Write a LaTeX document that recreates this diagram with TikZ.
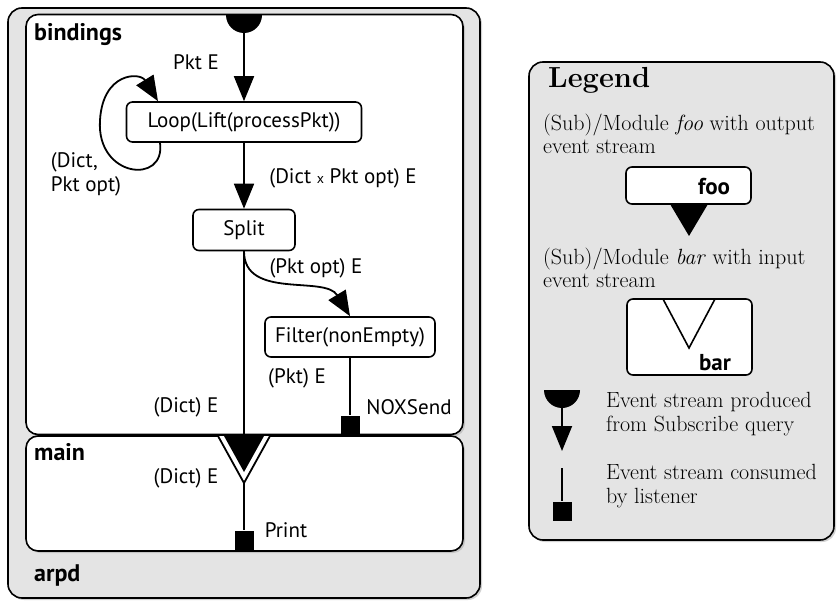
\documentclass[tikz,border=0pt]{standalone}
\usepackage{fontspec}
\newfontfamily\labelfont{PT Sans}
\usetikzlibrary{positioning, arrows.meta, calc, shadows}

\definecolor{panelgray}{RGB}{228,228,228}

\tikzset{
  container/.style={draw, line width=1.6pt, rounded corners=14pt,
    drop shadow={shadow xshift=2pt, shadow yshift=-2pt, fill=black!35}},
  modbox/.style={draw, line width=1.6pt, rounded corners=6pt, fill=white,
    font=\labelfont\fontsize{21}{23}\selectfont, inner sep=0pt},
  lbl/.style={font=\labelfont\fontsize{21}{24}\selectfont, inner sep=1pt},
  boldlbl/.style={font=\labelfont\bfseries\fontsize{23}{25}\selectfont, inner sep=1pt},
  grouplbl/.style={font=\labelfont\bfseries\fontsize{24}{26}\selectfont, anchor=west, inner sep=0pt},
  legline/.style={font=\fontsize{22}{23}\selectfont, anchor=base west, inner sep=0pt},
  flow/.style={line width=1.8pt, -{Triangle[width=20pt,length=25pt]}},
  wire/.style={line width=1.8pt},
  sink/.style={fill=black, minimum size=19pt, inner sep=0pt},
}

\begin{document}
\begin{tikzpicture}[x=1pt, y=-1pt]
    \useasboundingbox (0,0) rectangle (837,601);

    % containers
    \node[container, fill=panelgray, minimum width=472, minimum height=590] (arpd) at (244,303) {};
    \node[container, fill=white, rounded corners=12pt, minimum width=437, minimum height=420] (bindings) at (244.5,224.5) {};
    \node[container, fill=white, rounded corners=12pt, minimum width=437, minimum height=115] (main) at (244.5,493.5) {};
    \node[grouplbl] (bindingslbl) at (34,35) {bindings};
    \node[grouplbl] (mainlbl) at (34,452) {main};
    \node[grouplbl] (arpdlbl) at (34,575) {arpd};

    % subscribe source
    \fill (226,15) arc[start angle=180, end angle=0, radius=18] -- cycle;
    \coordinate (subsrc) at (244,33);

    % modules
    \node[modbox, minimum width=235, minimum height=40] (loop) at (244,122) {Loop(Lift(processPkt))};
    \node[modbox, minimum width=102, minimum height=41] (split) at (244,230) {Split};
    \node[modbox, minimum width=170, minimum height=40] (filter) at (350,337) {Filter(nonEmpty)};

    % streams
    \draw[flow] (subsrc) -- (loop.north);
    \node[lbl] (pktlbl) at (196,62) {Pkt E};
    \draw[flow] ([xshift=-84pt]loop.south) .. controls (166,185) and (96,178) .. (100,120)
        .. controls (103,72) and (140,72) .. ([xshift=-86pt]loop.north);
    \node[lbl, align=left] (statelbl) at (86,174) {(Dict,\\Pkt opt)};
    \draw[flow] (loop.south) -- (split.north);
    \node[lbl] (pairlbl) at (343,178) {(Dict {\fontsize{14}{16}\selectfont x} Pkt opt) E};
    \draw[flow] (split.south) .. controls (244,300) and (325,275) .. (filter.north);
    \node[lbl] (optlbl) at (316,268) {(Pkt opt) E};

    % output of bindings into main
    \coordinate (dictout) at (244,436);
    \draw[wire] (split.south) -- (dictout);
    \node[lbl] (dictlbl) at (186,407) {(Dict) E};
    \draw[wire, fill=white] (218,436) -- (244,483) -- (270,436);
    \fill (224,436) -- (244,472) -- (264,436) -- cycle;
    \coordinate (dictin) at (244,483);
    \node[lbl] (dictinlbl) at (186,478) {(Dict) E};

    % listeners
    \node[sink] (noxsend) at (350,425) {};
    \draw[wire] (filter.south) -- (noxsend);
    \node[lbl] (pktoutlbl) at (297,378) {(Pkt) E};
    \node[lbl] (noxlbl) at (409,407) {NOXSend};
    \node[sink] (print) at (244,540) {};
    \draw[wire] (dictin) -- (print);
    \node[lbl] (printlbl) at (286,530) {Print};

    % legend
    \node[container, fill=panelgray, minimum width=305, minimum height=478] (legend) at (681.5,301) {};
    \node[font=\bfseries\fontsize{29}{32}\selectfont, anchor=base west, inner sep=0pt] (legendlbl) at (548,88) {Legend};
    \node[legline] (footxta) at (543,131) {(Sub)/Module \textit{foo} with output};
    \node[legline] (footxtb) at (543,154) {event stream};
    \node[modbox, minimum width=125, minimum height=37] (foo) at (688.5,185.5) {};
    \node[boldlbl] (foolbl) at (714,187) {foo};
    \fill (670,204) -- (689,236) -- (708,204) -- cycle;
    \node[legline] (bartxta) at (543,265) {(Sub)/Module \textit{bar} with input};
    \node[legline] (bartxtb) at (543,288) {event stream};
    \node[modbox, minimum width=125, minimum height=76] (bar) at (689.5,337) {};
    \draw[line width=1.6pt] (663,299) -- (689,348) -- (715,299);
    \node[boldlbl] (barlbl) at (715,363) {bar};

    \fill (544,390) arc[start angle=180, end angle=0, radius=18] -- cycle;
    \coordinate (legsrc) at (562,408);
    \coordinate (legtip) at (562,451);
    \draw[wire, -{Triangle[width=20pt,length=25pt]}] (legsrc) -- (legtip);
    \node[legline] (srctxta) at (606,407) {Event stream produced};
    \node[legline] (srctxtb) at (606,431) {from Subscribe query};
    \node[sink] (legsink) at (562,511) {};
    \coordinate (legtop) at (562,468);
    \draw[wire] (legtop) -- (legsink);
    \node[legline] (sinktxta) at (606,479) {Event stream consumed};
    \node[legline] (sinktxtb) at (606,503) {by listener};
\end{tikzpicture}
\end{document}
